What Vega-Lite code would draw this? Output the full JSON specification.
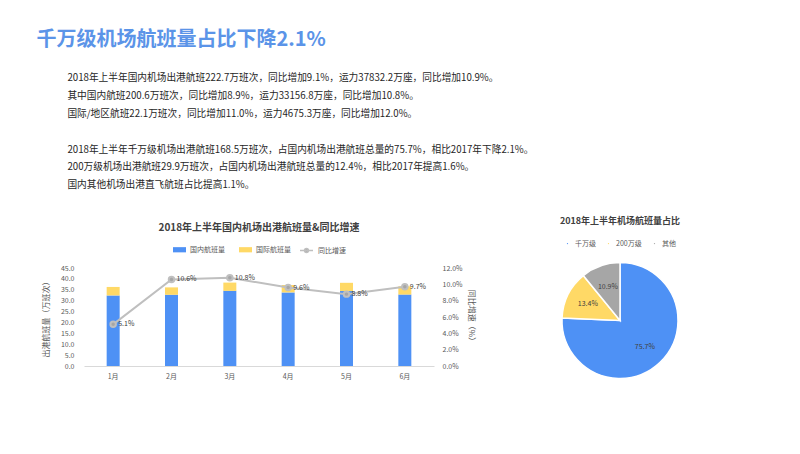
{
  "$schema": "https://vega.github.io/schema/vega-lite/v6.json",
  "padding": {"left": 36, "top": 30, "right": 5, "bottom": 5},
  "title": {"text": "千万级机场航班量占比下降2.1%", "anchor": "start", "fontSize": 20, "color": "#5b94e8", "fontWeight": "bold", "dx": -6, "offset": 23},
  "datasets": {
    "flights": [
      {"month": "1月", "type": "国内航班量", "value": 32.4, "ord": 1},
      {"month": "1月", "type": "国际航班量", "value": 3.9, "ord": 2},
      {"month": "2月", "type": "国内航班量", "value": 32.7, "ord": 1},
      {"month": "2月", "type": "国际航班量", "value": 3.4, "ord": 2},
      {"month": "3月", "type": "国内航班量", "value": 34.5, "ord": 1},
      {"month": "3月", "type": "国际航班量", "value": 3.8, "ord": 2},
      {"month": "4月", "type": "国内航班量", "value": 33.8, "ord": 1},
      {"month": "4月", "type": "国际航班量", "value": 3.4, "ord": 2},
      {"month": "5月", "type": "国内航班量", "value": 34.4, "ord": 1},
      {"month": "5月", "type": "国际航班量", "value": 3.8, "ord": 2},
      {"month": "6月", "type": "国内航班量", "value": 32.8, "ord": 1},
      {"month": "6月", "type": "国际航班量", "value": 3.8, "ord": 2}
    ],
    "growth": [
      {"month": "1月", "rate": 0.051},
      {"month": "2月", "rate": 0.106},
      {"month": "3月", "rate": 0.108},
      {"month": "4月", "rate": 0.096},
      {"month": "5月", "rate": 0.088},
      {"month": "6月", "rate": 0.097}
    ],
    "share": [
      {"cat": "千万级", "pct": 0.757, "ord": 1},
      {"cat": "200万级", "pct": 0.134, "ord": 2},
      {"cat": "其他", "pct": 0.109, "ord": 3}
    ]
  },
  "resolve": {"scale": {"color": "independent", "stroke": "independent"}, "legend": {"color": "independent", "stroke": "independent"}},
  "vconcat": [
    {
      "title": {
        "text": [
          "2018年上半年国内机场出港航班222.7万班次，同比增加9.1%，运力37832.2万座，同比增加10.9%。",
          "其中国内航班200.6万班次，同比增加8.9%，运力33156.8万座，同比增加10.8%。",
          "国际/地区航班22.1万班次，同比增加11.0%，运力4675.3万座，同比增加12.0%。"
        ],
        "anchor": "start", "fontSize": 9.7, "lineHeight": 17.8, "fontWeight": "normal", "color": "#262626", "dx": 25, "offset": 26
      },
      "resolve": {"scale": {"color": "independent", "stroke": "independent"}, "legend": {"color": "independent", "stroke": "independent"}},
      "vconcat": [
        {
          "title": {
            "text": [
              "2018年上半年千万级机场出港航班168.5万班次，占国内机场出港航班总量的75.7%，相比2017年下降2.1%。",
              "200万级机场出港航班29.9万班次，占国内机场出港航班总量的12.4%，相比2017年提高1.6%。",
              "国内其他机场出港直飞航班占比提高1.1%。"
            ],
            "anchor": "start", "fontSize": 9.7, "lineHeight": 17.8, "fontWeight": "normal", "color": "#262626", "dx": 25, "offset": 27
          },
          "spacing": 84,
          "resolve": {"scale": {"color": "independent", "stroke": "independent"}, "legend": {"color": "independent", "stroke": "independent"}},
          "hconcat": [
            {
              "width": 350,
              "height": 98,
              "title": {"text": "2018年上半年国内机场出港航班量&同比增速", "fontSize": 10, "color": "#404040", "fontWeight": "bold", "offset": 10},
              "layer": [
                {
                  "data": {"name": "flights"},
                  "mark": {"type": "bar", "width": 13},
                  "encoding": {
                    "x": {"field": "month", "type": "nominal", "sort": ["1月", "2月", "3月", "4月", "5月", "6月"],
                      "axis": {"title": null, "labelAngle": 0, "labelFontSize": 7, "labelColor": "#595959", "ticks": false, "domainColor": "#d9d9d9", "labelPadding": 6}},
                    "y": {"field": "value", "type": "quantitative", "stack": "zero", "scale": {"domain": [0, 45]},
                      "axis": {"title": "出港航班量（万班次）", "titleFontSize": 8, "titleFontWeight": "normal", "titleColor": "#595959", "titlePadding": 10, "values": [0, 5, 10, 15, 20, 25, 30, 35, 40, 45], "format": ".1f", "domain": false, "ticks": false, "grid": false, "labelFontSize": 7, "labelColor": "#595959", "labelPadding": 10}},
                    "color": {"field": "type", "type": "nominal", "scale": {"domain": ["国内航班量", "国际航班量"], "range": ["#4e91f5", "#ffd966"]},
                      "legend": {"orient": "top", "title": null, "symbolType": "M-1,-0.4H1V0.4H-1Z", "symbolSize": 169, "symbolStrokeWidth": 0, "labelFontSize": 7, "labelColor": "#595959", "direction": "horizontal", "columnPadding": 14, "labelOffset": 4, "offset": 12}},
                    "order": {"field": "ord", "type": "quantitative"}
                  }
                },
                {
                  "data": {"name": "growth"},
                  "encoding": {
                    "x": {"field": "month", "type": "nominal", "sort": ["1月", "2月", "3月", "4月", "5月", "6月"]},
                    "y": {"field": "rate", "type": "quantitative", "scale": {"domain": [0, 0.12]},
                      "axis": {"orient": "right", "title": "同比增速（%）", "titleFontSize": 8, "titleFontWeight": "normal", "titleColor": "#595959", "values": [0, 0.02, 0.04, 0.06, 0.08, 0.1, 0.12], "format": ".1%", "domain": false, "ticks": false, "grid": false, "labelFontSize": 7, "labelColor": "#595959", "labelPadding": 8}}
                  },
                  "layer": [
                    {
                      "mark": {"type": "line", "strokeWidth": 2, "point": {"filled": true, "size": 30, "color": "#a6a6a6"}},
                      "encoding": {
                        "stroke": {"datum": "同比增速", "scale": {"range": ["#bfbfbf"]},
                          "legend": {"orient": "top", "title": null, "symbolType": "M-1,0H1M0.3,0A0.3,0.3 0 1,1 -0.3,0A0.3,0.3 0 1,1 0.3,0", "symbolSize": 169, "symbolStrokeWidth": 1.5, "symbolFillColor": "#a6a6a6", "labelFontSize": 7, "labelColor": "#595959", "labelOffset": 4, "offset": 12}}
                      }
                    },
                    {
                      "mark": {"type": "text", "align": "left", "dx": 5, "fontSize": 7, "color": "#404040"},
                      "encoding": {"text": {"field": "rate", "type": "quantitative", "format": ".1%"}}
                    }
                  ]
                }
              ],
              "resolve": {"scale": {"y": "independent", "color": "independent", "stroke": "independent"}}
            },
            {
              "width": 120,
              "height": 105,
              "title": {"text": "2018年上半年机场航班量占比", "fontSize": 9, "color": "#404040", "fontWeight": "bold", "offset": 14},
              "data": {"name": "share"},
              "encoding": {
                "theta": {"field": "pct", "type": "quantitative", "stack": true},
                "order": {"field": "ord", "type": "quantitative"},
                "color": {"field": "cat", "type": "nominal", "scale": {"domain": ["千万级", "200万级", "其他"], "range": ["#4e91f5", "#ffd966", "#a6a6a6"]},
                  "legend": {"orient": "top", "title": null, "direction": "horizontal", "symbolType": "circle", "symbolSize": 8, "labelFontSize": 7, "labelColor": "#595959", "columnPadding": 8, "offset": 20}}
              },
              "layer": [
                {"mark": {"type": "arc", "outerRadius": 58, "stroke": "white", "strokeWidth": 1.5}},
                {"mark": {"type": "text", "radius": 36, "fontSize": 7, "color": "#404040"},
                  "encoding": {"text": {"field": "pct", "type": "quantitative", "format": ".1%"}, "color": {"value": "#404040"}}}
              ]
            }
          ]
        }
      ]
    }
  ],
  "config": {
    "font": "Noto Sans CJK SC",
    "view": {"stroke": null},
    "legend": {"labelFont": "Noto Sans CJK SC", "layout": {"top": {"anchor": "middle"}}}
  }
}
